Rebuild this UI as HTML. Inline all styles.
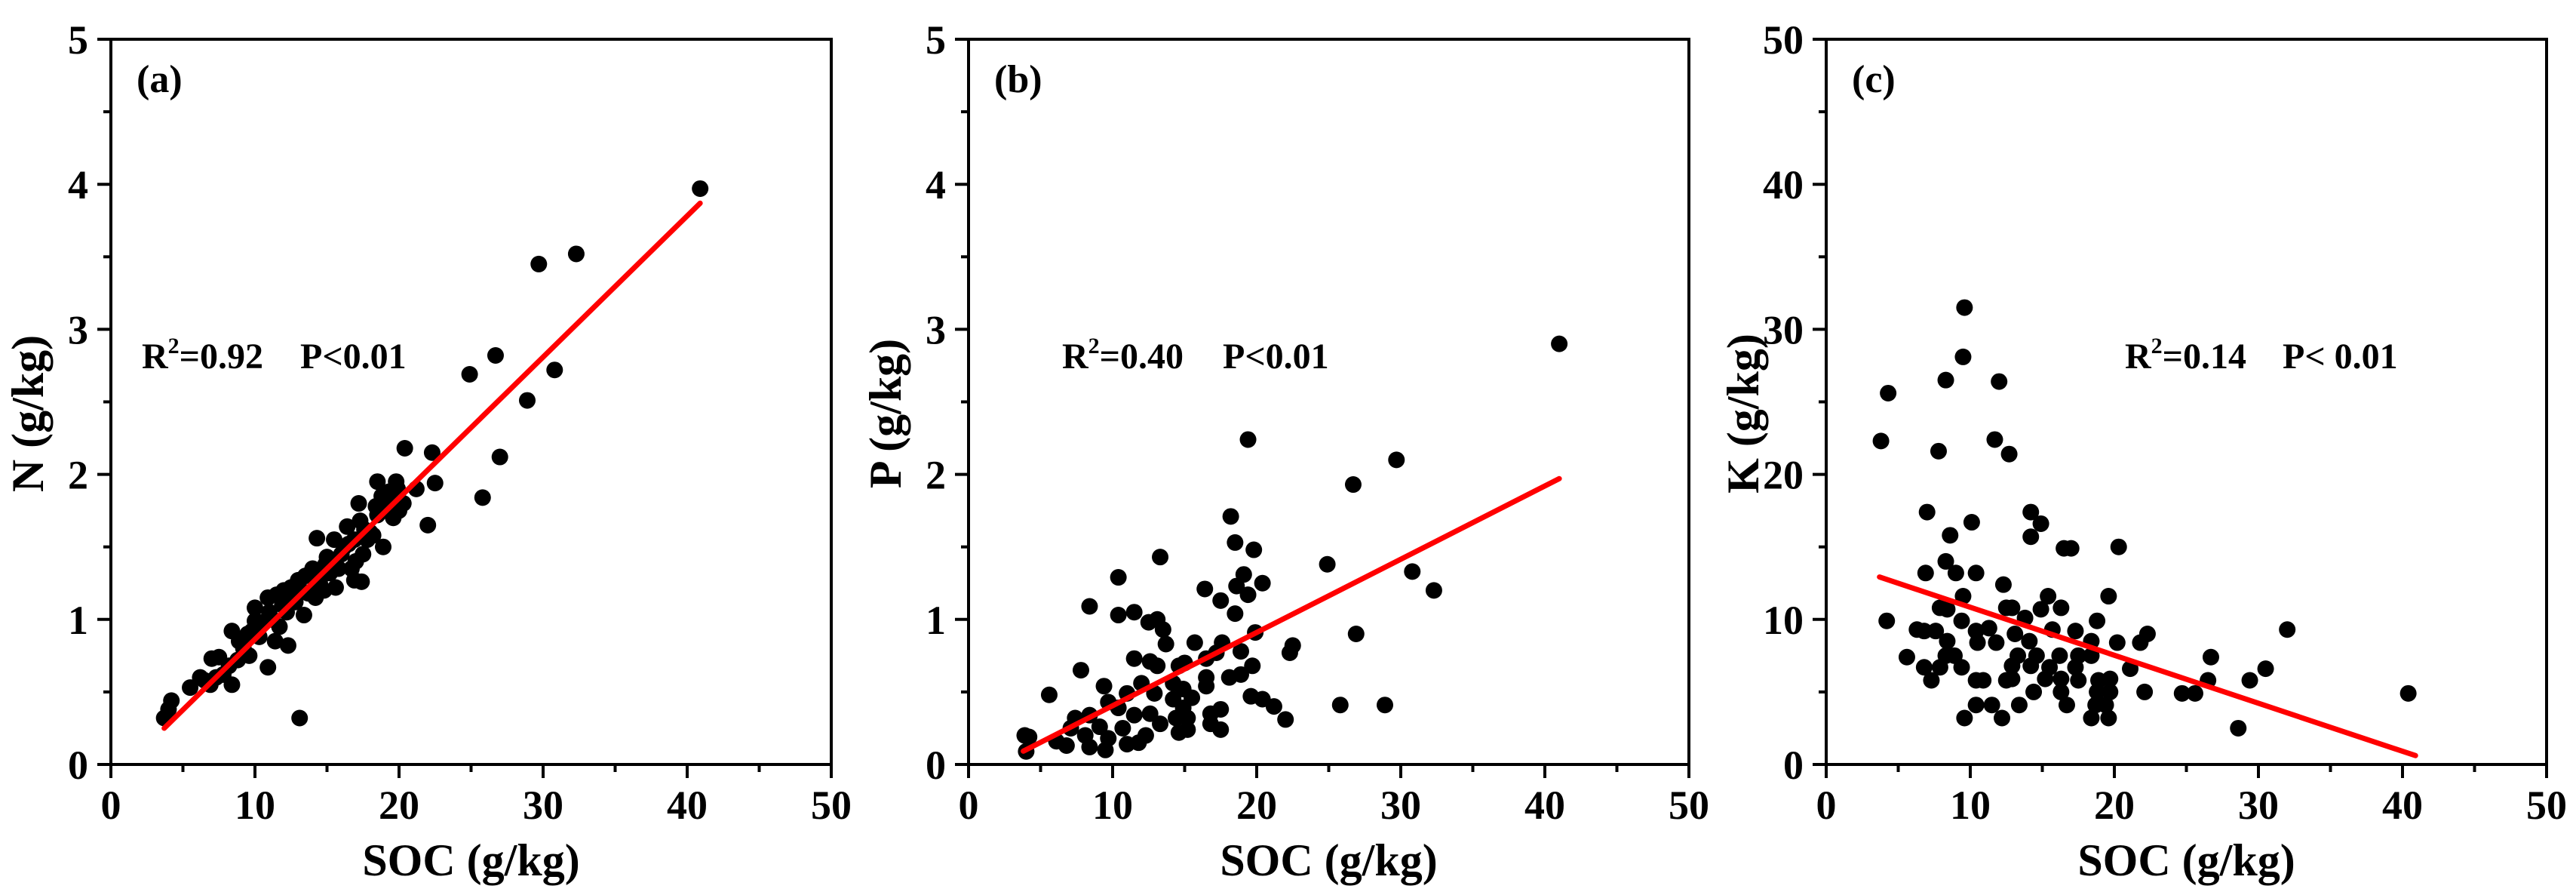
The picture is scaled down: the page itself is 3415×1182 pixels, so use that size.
<!DOCTYPE html>
<html><head><meta charset="utf-8"><style>
html,body{margin:0;padding:0;background:#fff;}
svg{display:block;font-family:"Liberation Serif","Times New Roman",serif;font-weight:bold;}
</style></head><body>
<svg id="fig" width="3415" height="1182" viewBox="0 0 3415 1182" xmlns="http://www.w3.org/2000/svg">
<rect width="3415" height="1182" fill="#fff"/>
</svg>
<script>
// Panel (a): SOC vs N
const socA=[40.9,29.7,32.3,26.7,24.9,30.8,28.9,27,25.8,22,20.4,22.3,22.5,21.2,19.8,18.5,17.2,17.3,16.4,14.3,15.5,18.9,17.4,16.9,15.6,13.4,12.3,11.4,10.9,13.1,8.4,8.4,5.5,3.7,4.2,4,6.2,7,7.5,6.9,9.5,9.6,10,10,10.9,11.5,12,12.5,13,13.5,14,14.5,15,15.5,16,16.5,17,17.5,18,18.5,19,19.5,20,20.3,19.6,18.2,17.8,16.7,15.2,14.8,14.2,13.7,12.8,12.2,11.7,11.2,10.5,10.3,9.2,8.8,8.2,7.8,7.3,6.5,8.9,9.8,11.9,13.2,14.9,16.2,17.6,18.8,19.3,15.8,14.5,12.6,11,16.9,18.4,19.9];
const nA=[3.97,3.45,3.52,2.82,2.69,2.72,2.51,2.12,1.84,1.65,2.18,2.15,1.94,1.9,1.95,1.95,1.8,1.68,1.64,1.56,1.55,1.5,1.26,1.27,1.22,1.03,0.82,0.85,0.67,0.32,0.92,0.55,0.53,0.32,0.44,0.38,0.6,0.73,0.74,0.55,0.9,0.75,1.08,0.99,1.15,1.17,1.2,1.22,1.27,1.3,1.35,1.3,1.43,1.4,1.45,1.52,1.4,1.45,1.6,1.72,1.75,1.82,1.75,1.8,1.7,1.58,1.55,1.35,1.32,1.2,1.15,1.18,1.12,1.05,0.95,1.0,0.98,0.88,0.8,0.72,0.68,0.62,0.6,0.58,0.85,0.92,1.1,1.2,1.38,1.5,1.62,1.85,1.88,1.35,1.25,1.15,1.05,1.55,1.78,1.9];
// Panel (b): SOC vs P
const socB=[41,19.4,29.7,26.7,18.2,18.5,19.8,13.3,24.9,30.8,10.4,19.1,20.4,16.4,32.3,18.6,19.4,17.5,8.4,18.5,10.4,11.5,12.5,13.1,13.5,19.9,26.9,15.7,13.7,22.5,22.3,17.6,18.9,11.5,12.6,13.1,7.8,19.7,16.5,17.2,14.6,15.0,18.1,18.9,16.5,12,9.4,14.2,14.9,16.5,5.6,11,12.9,14.2,15.5,19.6,20.4,21.2,25.8,28.9,9.7,10.4,14.9,17.5,16.8,11.5,12.6,22,7.4,8.4,14.4,15.2,13.3,10.7,7.1,9.1,15.2,17.5,16.8,3.9,4.2,6.1,6.8,8.4,9.5,11,11.8,4,8.1,14.6,9.7,12.3];
const pB=[2.9,2.24,2.1,1.93,1.71,1.53,1.48,1.43,1.38,1.33,1.29,1.31,1.25,1.21,1.2,1.23,1.17,1.13,1.09,1.04,1.03,1.05,0.98,1.0,0.93,0.91,0.9,0.84,0.83,0.82,0.77,0.84,0.78,0.73,0.71,0.68,0.65,0.68,0.73,0.77,0.68,0.7,0.6,0.62,0.6,0.56,0.54,0.56,0.52,0.54,0.48,0.49,0.49,0.45,0.46,0.47,0.45,0.4,0.41,0.41,0.43,0.39,0.39,0.38,0.35,0.34,0.35,0.31,0.32,0.34,0.32,0.32,0.28,0.25,0.25,0.26,0.24,0.24,0.28,0.2,0.19,0.16,0.13,0.12,0.1,0.14,0.15,0.09,0.2,0.22,0.18,0.2];
// Panel (c): SOC vs K
const socC=[9.6,9.5,4.3,8.3,12,3.8,7.8,11.7,12.7,7,10.1,14.2,14.9,8.6,14.2,16.5,17,20.3,8.3,6.9,9,10.4,12.3,9.5,19.6,15.4,7.9,8.4,12.5,12.9,14.9,16.3,4.2,9.4,13.8,18.8,32,6.3,6.8,7.6,10.4,11.3,15.7,17.3,22.3,8.4,10.5,11.8,13.1,14.1,18.4,20.2,21.8,5.6,8.3,8.9,13.3,14.6,16.2,17.5,18.4,26.7,6.8,7.9,9.4,12.9,14.2,15.5,17.3,21.1,30.5,7.3,10.4,10.9,12.5,12.9,15.2,16.3,17.5,18.9,19.7,26.5,29.4,14.4,16.3,18.8,19.7,22.1,24.7,25.6,40.4,10.4,11.5,13.4,16.7,18.7,19.4,9.6,12.2,18.4,19.6,28.6];
const kC=[31.5,28.1,25.6,26.5,26.4,22.3,21.6,22.4,21.4,17.4,16.7,17.4,16.6,15.8,15.7,14.9,14.9,15.0,14.0,13.2,13.2,13.2,12.4,11.6,11.6,11.6,10.8,10.7,10.8,10.8,10.7,10.8,9.9,9.9,10.1,9.9,9.3,9.3,9.2,9.2,9.2,9.4,9.3,9.2,9.0,8.5,8.4,8.4,9.0,8.5,8.5,8.4,8.4,7.4,7.5,7.5,7.5,7.5,7.5,7.5,7.5,7.4,6.7,6.7,6.7,6.8,6.8,6.7,6.7,6.6,6.6,5.8,5.8,5.8,5.8,5.9,5.9,5.9,5.8,5.8,5.9,5.8,5.8,5.0,5.0,5.0,5.0,5.0,4.9,4.9,4.9,4.1,4.1,4.1,4.1,4.1,4.1,3.2,3.2,3.2,3.2,2.5];
// Fit lines: [x start, x end], slope, intercept
const fitRangeA=[3.7,40.9], fitA=[0.0973,-0.11];
const fitRangeB=[3.8,41], fitB=[0.0505,-0.10];
const fitRangeC=[3.7,40.9], fitC=[-0.331,14.15];
const xTicks=[0,10,20,30,40,50];
const yTicksAB=[0,1,2,3,4,5];
const yTicksC=[0,10,20,30,40,50];
const panelLabels=['(a)','(b)','(c)'];
const yTitles=['N (g/kg)','P (g/kg)','K (g/kg)'];
const statR2=['0.92','0.40','0.14'];
const statP=['P<0.01','P<0.01','P< 0.01'];

const NS='http://www.w3.org/2000/svg';
const svg=document.getElementById('fig');
function mk(tag,attrs,parent){const e=document.createElementNS(NS,tag);for(const k in attrs)e.setAttribute(k,attrs[k]);(parent||svg).appendChild(e);return e;}

const W=955,H=961,TOP=52;
const lefts=[147,1284,2421];
const statPos=[[188,398],[1408,1621],[2817,3026]];

function drawPanel(i,xs,ys,ymax,yTicks,yMinorStep,fitRange,fit){
  const L=lefts[i];
  const g=mk('g',{});
  
  
  const sx=v=>L+v/50*W;
  const sy=v=>TOP+H-v/ymax*H;
  // points
  const pts=mk('g',{},g);
  
  
  for(let j=0;j<xs.length;j++){
    const c=mk('circle',{cx:sx(xs[j]),cy:sy(ys[j]),r:11,fill:'#000'},pts);
    
    
  }
  // fit line
  const fl=mk('line',{x1:sx(fitRange[0]),y1:sy(fit[0]*fitRange[0]+fit[1]),x2:sx(fitRange[1]),y2:sy(fit[0]*fitRange[1]+fit[1]),stroke:'#ff0000','stroke-width':7,'stroke-linecap':'round'},g);
  
  
  // frame
  const fr=mk('rect',{x:L,y:TOP,width:W,height:H,fill:'none',stroke:'#000','stroke-width':4},g);
  
  
  // x ticks
  for(let v=0;v<=50;v+=5){
    const major=v%10===0;
    const t=mk('line',{x1:sx(v),y1:TOP+H,x2:sx(v),y2:TOP+H+(major?18:10),stroke:'#000','stroke-width':4},g);
    
    
  }
  xTicks.forEach(v=>{
    const t=mk('text',{x:sx(v),y:1085,'font-size':54,'text-anchor':'middle',fill:'#000'},g);
    t.textContent=v;
    
    
  });
  // y ticks
  for(let v=0;v<=ymax+1e-9;v+=yMinorStep){
    const major=Math.abs(v/(yMinorStep*2)-Math.round(v/(yMinorStep*2)))<1e-6;
    const t=mk('line',{x1:L,y1:sy(v),x2:L-(major?18:10),y2:sy(v),stroke:'#000','stroke-width':4},g);
    
    
  }
  yTicks.forEach(v=>{
    const t=mk('text',{x:L-30,y:sy(v)+19,'font-size':54,'text-anchor':'end',fill:'#000'},g);
    t.textContent=v;
    
    
  });
  // titles
  const xt=mk('text',{x:L+W/2,y:1160,'font-size':60,'text-anchor':'middle',fill:'#000'},g);
  xt.textContent='SOC (g/kg)';
  
  
  const cxT=L-90, cyT=548;
  const yt=mk('text',{x:cxT,y:cyT,'font-size':60,'text-anchor':'middle',fill:'#000',transform:`rotate(-90 ${cxT} ${cyT})`},g);
  yt.textContent=yTitles[i];
  
  
  const pl=mk('text',{x:L+34,y:122,'font-size':52,fill:'#000'},g);
  pl.textContent=panelLabels[i];
  
  
  const r2=mk('text',{x:statPos[i][0],y:488,'font-size':48,fill:'#000'},g);
  
  
  const a=mk('tspan',{},r2);a.textContent='R';
  const b=mk('tspan',{'font-size':30,dy:-20},r2);b.textContent='2';
  const c=mk('tspan',{dy:20},r2);c.textContent='='+statR2[i];
  const pv=mk('text',{x:statPos[i][1],y:488,'font-size':48,fill:'#000'},g);
  pv.textContent=statP[i];
  
  
}
drawPanel(0,socA,nA,5,yTicksAB,0.5,fitRangeA,fitA);
drawPanel(1,socB,pB,5,yTicksAB,0.5,fitRangeB,fitB);
drawPanel(2,socC,kC,50,yTicksC,5,fitRangeC,fitC);
</script>
</body></html>
